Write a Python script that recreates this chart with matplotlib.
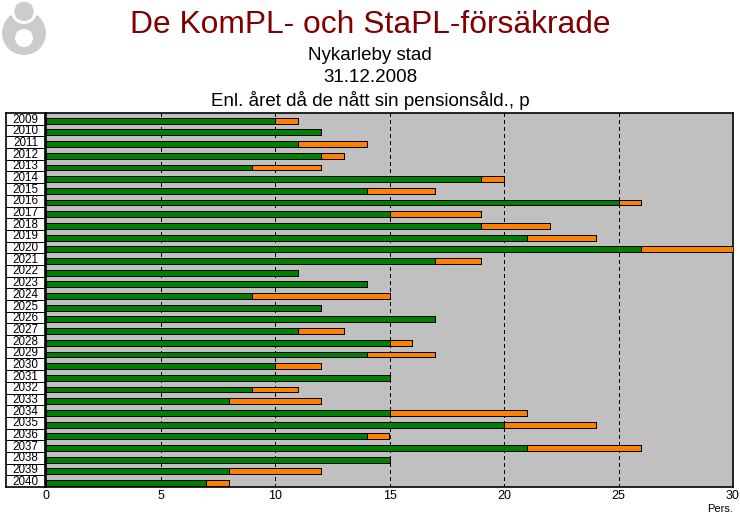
import matplotlib
matplotlib.use('Agg')
import matplotlib.pyplot as plt
from matplotlib.patches import Circle
import numpy as np

plt.rcParams['font.family'] = ['Liberation Sans', 'DejaVu Sans']

years = list(range(2009, 2041))
# green part, then the orange part stacked on top of it
green = [10, 12, 11, 12, 9, 19, 14, 25, 15, 19, 21, 26, 17, 11, 14, 9,
         12, 17, 11, 15, 14, 10, 15, 9, 8, 15, 20, 14, 21, 15, 8, 7]
total = [11, 12, 14, 13, 12, 20, 17, 26, 19, 22, 24, 30, 19, 11, 14, 15,
         12, 17, 13, 16, 17, 12, 15, 11, 12, 21, 24, 15, 26, 15, 12, 8]
x_ticks = [0, 5, 10, 15, 20, 25, 30]
title_lines = ['Nykarleby stad', '31.12.2008', 'Enl. året då de nått sin pensionsåld., p']

W, H = 740, 520
ONE_PX = 0.72  # line width of one pixel at dpi 100


def px_axes(fig, x0, y0, x1, y1):
    # Axes from pixel corners, y counted from the top of the picture
    return fig.add_axes([x0 / W, 1 - y1 / H, (x1 - x0) / W, (y1 - y0) / H])


fig = plt.figure(figsize=(W / 100, H / 100), dpi=100, facecolor='white')

# Main chart
ax = px_axes(fig, 46, 113, 733, 487)
ax.set_facecolor('#c0c0c0')
ax.set_xlim(0, 30)
ax.set_ylim(len(years), 0)
for xt in x_ticks[1:-1]:
    ax.axvline(xt, color='black', lw=ONE_PX, ls=(0, (4, 4)), zorder=1, antialiased=False)

pos = np.arange(len(years)) + 0.66
green_arr = np.array(green)
total_arr = np.array(total)
ax.barh(pos, green_arr, height=0.5, color='#008000', edgecolor='black', lw=ONE_PX,
        zorder=3, antialiased=False)
ax.barh(pos, total_arr - green_arr, left=green_arr, height=0.5, color='#ff8000',
        edgecolor='black', lw=ONE_PX, zorder=3, antialiased=False)
ax.set_yticks([])
ax.set_xticks(x_ticks)
ax.tick_params(axis='x', length=0, pad=2, labelsize=9)
for s in ax.spines.values():
    s.set_linewidth(1.2)

# Year boxes on the left
lab = px_axes(fig, 6, 113, 45, 487)
lab.set_xlim(0, 1)
lab.set_ylim(len(years), 0)
lab.set_xticks([])
lab.set_yticks([])
for i, yr in enumerate(years):
    lab.text(0.5, i + 0.56, str(yr), ha='center', va='center', fontsize=8.4)
    if i > 0:
        lab.axhline(i, color='black', lw=ONE_PX, antialiased=False)
for s in lab.spines.values():
    s.set_linewidth(1.2)

# Titles
fig.text(370 / W, 1 - 25 / H, 'De KomPL- och StaPL-försäkrade', color='#800000',
         fontsize=22.9, ha='center', va='center')
for line, yp in zip(title_lines, [55, 77, 100]):
    fig.text(370 / W, 1 - yp / H, line, fontsize=13.5, ha='center', va='center')
fig.text(733 / W, 1 - 509 / H, 'Pers.', fontsize=8, ha='right', va='center')

# Logo, ring with a dot above it
logo = px_axes(fig, 0, 0, 50, 60)
logo.set_xlim(0, 50)
logo.set_ylim(60, 0)
logo.axis('off')
logo.add_patch(Circle((24, 33), 22, color='#cccccc', lw=0))
logo.add_patch(Circle((24, 38), 9, color='white', lw=0))
logo.add_patch(Circle((24, 11), 13, color='white', lw=0))
logo.add_patch(Circle((24, 11.5), 9.7, color='#cccccc', lw=0))

fig.savefig('out.png', dpi=100)
